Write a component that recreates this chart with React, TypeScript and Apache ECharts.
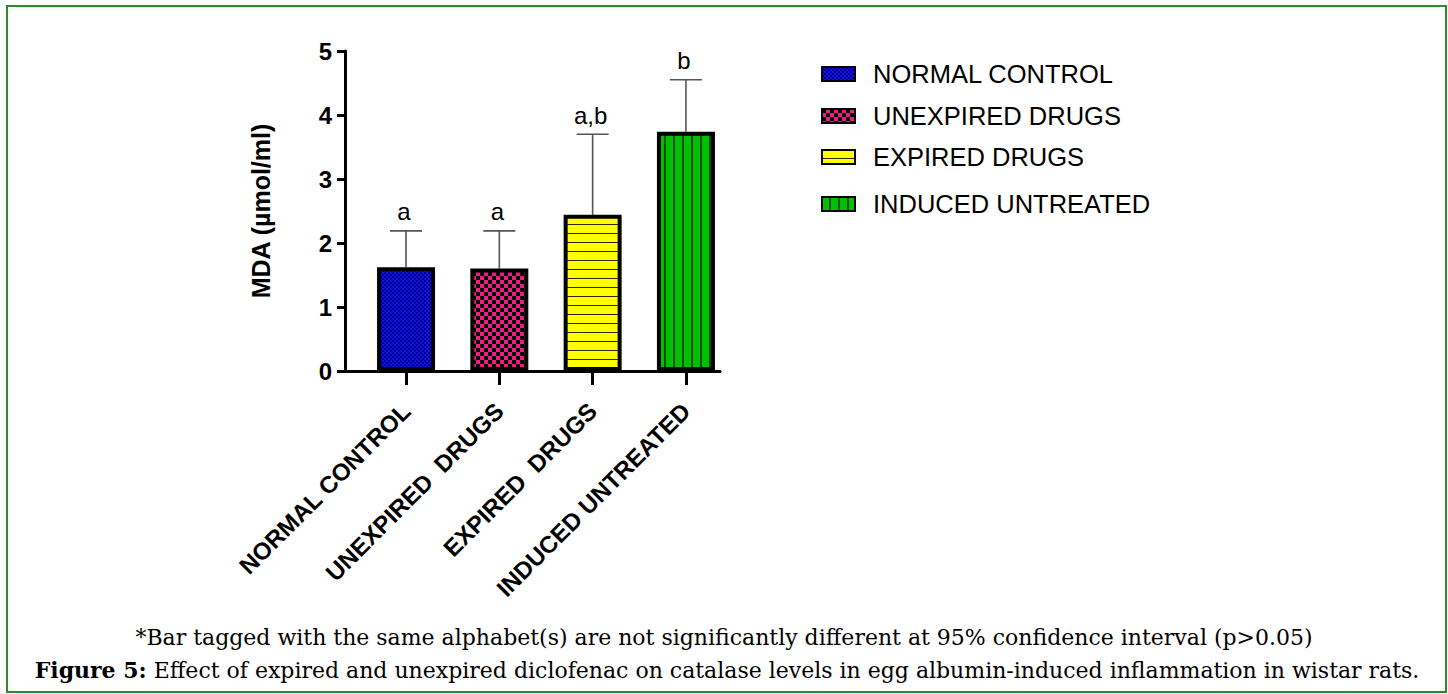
import React, { useEffect, useRef } from 'react';
import * as echarts from 'echarts';

// Groups and measured MDA values (mean and SD, µmol/ml)
const categories = ['NORMAL CONTROL', 'UNEXPIRED  DRUGS', 'EXPIRED  DRUGS', 'INDUCED UNTREATED'];
const legendNames = ['NORMAL CONTROL', 'UNEXPIRED DRUGS', 'EXPIRED DRUGS', 'INDUCED UNTREATED'];
const mdaMeans = [1.62, 1.6, 2.44, 3.74];
const mdaErrors = [0.57, 0.59, 1.26, 0.81];
const groupTags = ['a', 'a', 'a,b', 'b'];
const categoryPositions = [0, 1, 2, 3];
const legendCenters = [74, 116, 157, 204];

const footnote =
  '*Bar tagged with the same alphabet(s) are not significantly different at 95% confidence interval (p>0.05)';
const figureLabel = 'Figure 5:';
const figureText =
  ' Effect of expired and unexpired diclofenac on catalase levels in egg albumin-induced inflammation in wistar rats.';

type Draw = (ctx: CanvasRenderingContext2D, w: number, h: number) => void;

function tile(w: number, h: number, draw: Draw) {
  const c = document.createElement('canvas');
  c.width = w;
  c.height = h;
  const ctx = c.getContext('2d') as CanvasRenderingContext2D;
  draw(ctx, w, h);
  return { image: c, repeat: 'repeat', imageWidth: w, imageHeight: h } as any;
}

function makePatterns() {
  const blue = tile(4, 4, (ctx) => {
    ctx.fillStyle = '#0d0dff';
    ctx.fillRect(0, 0, 4, 4);
    ctx.fillStyle = '#000070';
    ctx.fillRect(0, 0, 2, 2);
    ctx.fillRect(2, 2, 2, 2);
  });
  const pink = tile(8, 8, (ctx) => {
    ctx.fillStyle = '#f01a85';
    ctx.fillRect(0, 0, 8, 8);
    ctx.fillStyle = '#000';
    ctx.fillRect(0, 0, 4, 4);
    ctx.fillRect(4, 4, 4, 4);
  });
  const yellow = tile(4, 9, (ctx) => {
    ctx.fillStyle = '#ffff00';
    ctx.fillRect(0, 0, 4, 9);
    ctx.fillStyle = '#2a2a00';
    ctx.fillRect(0, 8, 4, 1);
  });
  const green = tile(9, 4, (ctx) => {
    ctx.fillStyle = '#00c000';
    ctx.fillRect(0, 0, 9, 4);
    ctx.fillStyle = '#005000';
    ctx.fillRect(7, 0, 2, 4);
  });
  return [blue, pink, yellow, green];
}

const sansBold = {
  fontFamily: 'Arial, "Liberation Sans", sans-serif',
  fontWeight: 'bold',
  color: '#000',
};

export default function App() {
  const ref = useRef<HTMLDivElement>(null);

  useEffect(() => {
    if (!ref.current) return;
    const chart = echarts.init(ref.current, undefined, { renderer: 'svg' });
    const patterns = makePatterns();

    const barSeries = legendNames.map((name, i) => ({
      type: 'bar',
      name,
      data: [[categoryPositions[i], mdaMeans[i]]],
      barWidth: 58,
      barGap: '-100%',
      z: 3,
      itemStyle: { color: patterns[i], borderColor: '#000', borderWidth: 4 },
      emphasis: { disabled: true },
    }));

    const errorSeries = {
      type: 'custom',
      z: 2,
      encode: { x: 0, y: [1, 2] },
      data: mdaMeans.map((m, i) => [categoryPositions[i], m, m + mdaErrors[i]]),
      renderItem: (params: any, api: any) => {
        const x = api.value(0);
        const lo = api.coord([x, api.value(1)]);
        const hi = api.coord([x, api.value(2)]);
        const half = 16;
        const lineStyle = { stroke: '#555', lineWidth: 1.6 };
        return {
          type: 'group',
          children: [
            { type: 'line', shape: { x1: lo[0], y1: lo[1], x2: hi[0], y2: hi[1] }, style: lineStyle },
            { type: 'line', shape: { x1: hi[0] - half, y1: hi[1], x2: hi[0] + half, y2: hi[1] }, style: lineStyle },
            {
              type: 'text',
              x: hi[0] - 2,
              y: hi[1] - 7,
              style: {
                text: groupTags[params.dataIndex],
                textAlign: 'center',
                textVerticalAlign: 'bottom',
                font: '24px Arial, "Liberation Sans", sans-serif',
                fill: '#000',
              },
            },
          ],
        };
      },
    };

    const legends = legendNames.map((name, i) => ({
      data: [{ name, icon: 'rect' }],
      left: 821,
      top: legendCenters[i] - 13,
      padding: 0,
      itemWidth: 33,
      itemHeight: 14,
      selectedMode: false,
      textStyle: {
        fontFamily: 'Arial, "Liberation Sans", sans-serif',
        fontSize: 25.5,
        lineHeight: 26,
        color: '#000',
        padding: [0, 0, 0, 13],
      },
    }));

    chart.setOption({
      animation: false,
      backgroundColor: '#fff',
      legend: legends,
      grid: { left: 345, right: 728, top: 51, bottom: 323, containLabel: false },
      xAxis: {
        type: 'value',
        min: -0.654,
        max: 3.365,
        splitLine: { show: false },
        axisLine: { show: true, onZero: false, lineStyle: { color: '#000', width: 3 } },
        axisTick: { show: true, customValues: categoryPositions, length: 14, lineStyle: { color: '#000', width: 3 } },
        axisLabel: {
          ...sansBold,
          customValues: categoryPositions,
          rotate: 45,
          margin: 36,
          formatter: (v: number) => categories[Math.round(v)] ?? '',
          fontSize: 24,
        },
      },
      yAxis: {
        type: 'value',
        min: 0,
        max: 5,
        interval: 1,
        name: 'MDA (µmol/ml)',
        nameLocation: 'middle',
        nameGap: 72,
        nameTextStyle: { ...sansBold, fontSize: 25 },
        splitLine: { show: false },
        axisLine: { show: true, onZero: false, lineStyle: { color: '#000', width: 3 } },
        axisTick: { show: true, length: 8, lineStyle: { color: '#000', width: 3 } },
        axisLabel: { ...sansBold, margin: 13, fontSize: 24 },
      },
      series: [errorSeries, ...barSeries],
      graphic: [
        {
          type: 'rect',
          silent: true,
          shape: { x: 7, y: 6, width: 1439, height: 686 },
          style: { fill: 'none', stroke: '#2b8a2b', lineWidth: 2 },
        },
        {
          type: 'text',
          x: 724,
          y: 637,
          style: {
            text: footnote,
            textAlign: 'center',
            textVerticalAlign: 'middle',
            font: '22px "DejaVu Serif", serif',
            fill: '#000',
          },
        },
        {
          type: 'text',
          x: 727,
          y: 670,
          style: {
            text: `{b|${figureLabel}}{r|${figureText}}`,
            textAlign: 'center',
            textVerticalAlign: 'middle',
            rich: {
              b: { fontFamily: '"DejaVu Serif", serif', fontWeight: 'bold', fontSize: 22, fill: '#000', color: '#000' },
              r: { fontFamily: '"DejaVu Serif", serif', fontSize: 22, fill: '#000', color: '#000' },
            },
          },
        },
      ],
    } as any);

    return () => chart.dispose();
  }, []);

  return (
    <div
      ref={ref}
      style={{ position: 'fixed', left: 0, top: 0, width: 1448, height: 694, background: '#fff' }}
    />
  );
}
